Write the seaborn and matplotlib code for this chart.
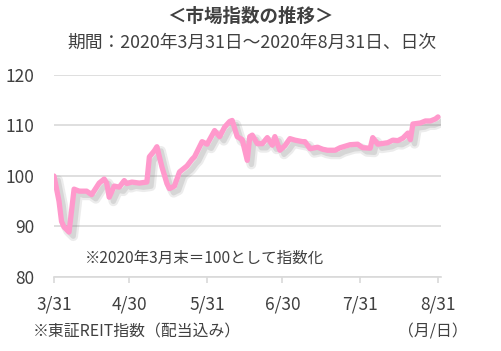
import matplotlib
matplotlib.use("Agg")
import matplotlib.pyplot as plt
import matplotlib.patheffects as pe
import seaborn as sns
import pandas as pd

# ---- data ----
dates = ["2020-03-31", "2020-04-02", "2020-04-03", "2020-04-04", "2020-04-06", "2020-04-08",
         "2020-04-10", "2020-04-13", "2020-04-15", "2020-04-18", "2020-04-20", "2020-04-21",
         "2020-04-22", "2020-04-24", "2020-04-26", "2020-04-28", "2020-04-29", "2020-05-01",
         "2020-05-04", "2020-05-07", "2020-05-08", "2020-05-10", "2020-05-11", "2020-05-13",
         "2020-05-15", "2020-05-16", "2020-05-18", "2020-05-20", "2020-05-23", "2020-05-25",
         "2020-05-26", "2020-05-29", "2020-05-31", "2020-06-03", "2020-06-05", "2020-06-07",
         "2020-06-09", "2020-06-10", "2020-06-12", "2020-06-14", "2020-06-16", "2020-06-17",
         "2020-06-18", "2020-06-20", "2020-06-22", "2020-06-24", "2020-06-26", "2020-06-27",
         "2020-06-29", "2020-07-01", "2020-07-03", "2020-07-05", "2020-07-08", "2020-07-09",
         "2020-07-11", "2020-07-14", "2020-07-16", "2020-07-18", "2020-07-21", "2020-07-23",
         "2020-07-27", "2020-07-30", "2020-08-01", "2020-08-04", "2020-08-05", "2020-08-07",
         "2020-08-11", "2020-08-13", "2020-08-15", "2020-08-17", "2020-08-19", "2020-08-20",
         "2020-08-21", "2020-08-24", "2020-08-26", "2020-08-28", "2020-08-30", "2020-08-31"]
index_values = [100.0, 95.0, 91.0, 89.9, 88.9, 97.4,
                97.0, 97.0, 96.3, 98.6, 99.4, 98.6,
                95.8, 98.0, 97.8, 99.1, 98.5, 98.8,
                98.6, 98.8, 103.8, 105.0, 105.8, 101.8,
                98.5, 97.5, 98.0, 100.8, 102.0, 103.3,
                103.8, 106.8, 106.3, 109.0, 107.8, 109.7,
                110.8, 111.0, 107.8, 107.2, 103.1, 107.8,
                108.1, 106.4, 106.4, 107.6, 106.1, 107.8,
                105.1, 106.0, 107.4, 107.1, 106.8, 106.8,
                105.4, 105.7, 105.3, 105.1, 105.1, 105.6,
                106.2, 106.3, 105.6, 105.5, 107.6, 106.3,
                106.6, 107.1, 107.0, 107.5, 108.5, 107.2,
                110.3, 110.5, 110.9, 110.9, 111.3, 111.7]
tick_dates = ["2020-03-31", "2020-04-30", "2020-05-31", "2020-06-30", "2020-07-31", "2020-08-31"]
tick_labels = ["3/31", "4/30", "5/31", "6/30", "7/31", "8/31"]
y_ticks = [80, 90, 100, 110, 120]

title = "＜市場指数の推移＞"
subtitle = "期間：2020年3月31日～2020年8月31日、日次"
note_in = "※2020年3月末＝100として指数化"
note_src = "※東証REIT指数（配当込み）"
unit = "（月/日）"

# ---- plot ----
sns.set_theme(style="white")
plt.rcParams['font.family'] = ['Noto Sans CJK JP', 'DejaVu Sans']

start = pd.Timestamp(dates[0])
df = pd.DataFrame({"day": [(pd.Timestamp(d) - start).days for d in dates],
                   "value": index_values})
tick_pos = [(pd.Timestamp(d) - start).days for d in tick_dates]

fig = plt.figure(figsize=(5.01, 3.51), dpi=100)
ax = fig.add_axes([54/501, 1-277/351, (441-54)/501, (277-75)/351])

txt = "#404040"
sns.lineplot(data=df, x="day", y="value", ax=ax, color="#ff99cc", lw=3.8,
             solid_joinstyle="round", solid_capstyle="round",
             path_effects=[pe.SimpleLineShadow(offset=(3, -3), shadow_color="#808080", alpha=0.15,
                                               linewidth=7),
                           pe.SimpleLineShadow(offset=(3, -3), shadow_color="#808080", alpha=0.2),
                           pe.Normal()])

ax.set_xlim(0, 154.2)
ax.set_ylim(80, 120)
ax.set_yticks(y_ticks)
ax.set_xticks(tick_pos)
ax.set_xticklabels(tick_labels)
ax.set_xlabel("")
ax.set_ylabel("")
ax.grid(axis="y", color="#d9d9d9", lw=1.2)
ax.grid(axis="x", visible=False)
for s in ["left", "top", "right"]:
    ax.spines[s].set_visible(False)
ax.spines["bottom"].set_color("#d9d9d9")
ax.spines["bottom"].set_linewidth(1.2)
ax.tick_params(axis="y", length=0, pad=14, labelsize=12.5, labelcolor=txt)
ax.tick_params(axis="x", length=4, width=1.2, color="#d9d9d9", pad=9, labelsize=12.5, labelcolor=txt,
               direction="out", bottom=True)

fig.text(0.5, 1-16/351, title, ha="center", va="center", fontsize=13.3, fontweight="bold", color=txt)
fig.text(252/501, 1-43/351, subtitle, ha="center", va="center", fontsize=12.8, color=txt)
fig.text(85/501, 1-258/351, note_in, ha="left", va="center", fontsize=11.2, color=txt)
fig.text(33/501, 1-332/351, note_src, ha="left", va="center", fontsize=11.4, color=txt)
fig.text(398/501, 1-332/351, unit, ha="left", va="center", fontsize=11.4, color=txt)

fig.savefig("out.png", dpi=100)
